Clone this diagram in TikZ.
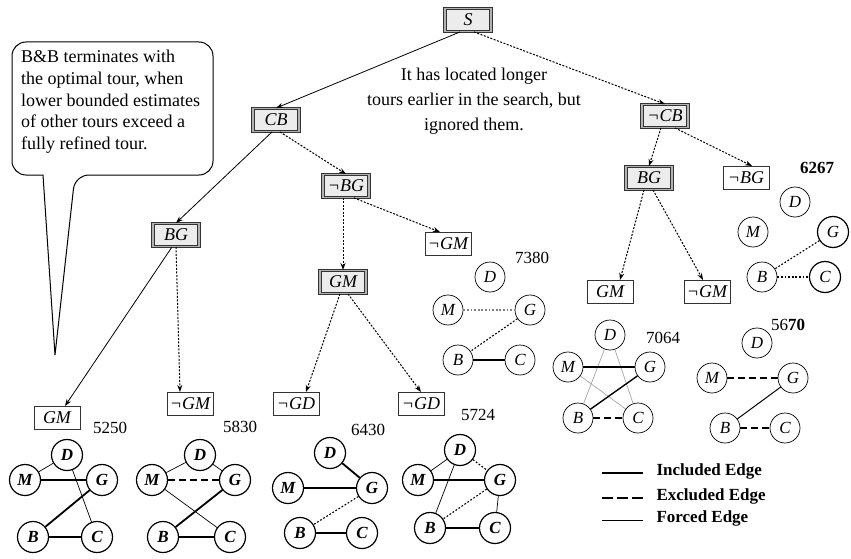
\documentclass[tikz,border=0pt]{standalone}
\usepackage{fontspec}
\setmainfont{Liberation Serif}
\usetikzlibrary{arrows.meta}
\begin{document}
\begin{tikzpicture}[x=1pt,y=-1pt,
  sel/.style={draw=black!80, double=gray!60, double distance=1.4pt, fill=gray!15, line width=0.9pt, minimum width=46pt, minimum height=23pt, inner sep=1pt, font=\fontsize{18}{18}\selectfont\itshape},
  plainbox/.style={draw=black!80, fill=white, line width=1pt, minimum width=46pt, minimum height=23pt, inner sep=1pt, font=\fontsize{18}{18}\selectfont\itshape},
  tarr/.style={-{Stealth[length=7pt,width=5pt]}, line width=0.8pt},
  tdot/.style={tarr, dash pattern=on 2pt off 1.5pt, line width=1pt},
  vtx/.style={circle, draw, line width=1.2pt, minimum size=31pt, inner sep=0pt, font=\fontsize{17}{17}\selectfont\itshape\bfseries},
  vtxl/.style={circle, draw, line width=0.7pt, minimum size=30pt, inner sep=0pt, font=\fontsize{17}{17}\selectfont\itshape},
  incl/.style={line width=1.8pt},
  forc/.style={line width=0.7pt},
  excl/.style={line width=1.2pt, dash pattern=on 7pt off 4pt},
  dotd/.style={line width=1.1pt, dash pattern=on 1.8pt off 1.8pt},
  num/.style={font=\fontsize{17}{17}\selectfont},
  legtxt/.style={font=\fontsize{17}{17}\selectfont\bfseries, anchor=west},
  txt/.style={font=\fontsize{18}{21.7}\selectfont}
]
\useasboundingbox (0,0) rectangle (851,559);

% callout
\draw[line width=1pt, fill=white] (43,175) [rounded corners=14pt] -- (12,175) -- (12,42) -- (213,42) -- (213,175) -- (75,175) [sharp corners] -- (55,355) -- cycle;
\node[txt, anchor=north west, align=left, inner sep=0pt] (callout) at (21,50) {B\&B terminates with\\the optimal tour, when\\lower bounded estimates\\of other tours exceed a\\fully refined tour.};

\node[txt, align=center, font=\fontsize{18}{25}\selectfont] (note) at (474,101) {It has located longer\\tours earlier in the search, but\\ignored them.};

% tree nodes
\node[sel] (S) at (468,20) {S};
\node[sel] (CB) at (276,120) {CB};
\node[sel] (nCB) at (665,116) {¬CB};
\node[sel] (nBG) at (346,186) {¬BG};
\node[sel] (BGl) at (176,235) {BG};
\node[plainbox] (nGMm) at (448,244) {¬GM};
\node[sel] (GMm) at (343,282) {GM};
\node[sel] (BGr) at (649,178) {BG};
\node[plainbox] (nBGr) at (746,178) {¬BG};
\node[plainbox] (GMb) at (57,418) {GM};
\node[plainbox] (nGMb) at (190,404) {¬GM};
\node[plainbox] (nGD1) at (296,404) {¬GD};
\node[plainbox] (nGD2) at (421,404) {¬GD};
\node[plainbox] (GMr) at (610,292) {GM};
\node[plainbox] (nGMr) at (707,292) {¬GM};

% tree edges
\draw[tarr] ([xshift=-8pt]S.south) -- (CB.north);
\draw[tdot] ([xshift=6pt]S.south) -- (nCB.north);
\draw[tarr] ([xshift=-4pt]CB.south) -- (BGl.north);
\draw[tdot] ([xshift=4pt]CB.south) -- (nBG.north);
\draw[tdot] ([xshift=-3pt]nBG.south) -- (GMm.north);
\draw[tdot] ([xshift=8pt]nBG.south) -- ([xshift=-8pt]nGMm.north);
\draw[tarr] ([xshift=-4pt]BGl.south) -- ([xshift=8pt]GMb.north);
\draw[tdot] (BGl.south) -- ([xshift=-10pt]nGMb.north);
\draw[tdot] ([xshift=-3pt]GMm.south) -- ([xshift=10pt]nGD1.north);
\draw[tdot] ([xshift=5pt]GMm.south) -- (nGD2.north);
\draw[tdot] ([xshift=-4pt]nCB.south) -- (BGr.north);
\draw[tdot] ([xshift=10pt]nCB.south) -- ([xshift=6pt]nBGr.north);
\draw[tdot] ([xshift=-5pt]BGr.south) -- ([xshift=10pt]GMr.north);
\draw[tdot] ([xshift=4pt]BGr.south) -- ([xshift=-4pt]nGMr.north);

% graph 5250
\node[vtx] (aD) at (67,455) {D};
\node[vtx] (aM) at (25,480) {M};
\node[vtx] (aG) at (102,480) {G};
\node[vtx] (aB) at (33,537) {B};
\node[vtx] (aC) at (97,537) {C};
\node[num] (la) at (110,428) {5250};
\draw[forc] (aD) -- (aM);
\draw[forc] (aD) -- (aC);
\draw[incl] (aM) -- (aG);
\draw[incl] (aG) -- (aB);
\draw[incl] (aB) -- (aC);

% graph 5830
\node[vtx] (bD) at (200,455) {D};
\node[vtx] (bM) at (152,480) {M};
\node[vtx] (bG) at (235,480) {G};
\node[vtx] (bB) at (163,537) {B};
\node[vtx] (bC) at (230,537) {C};
\node[num] (lb) at (240,427) {5830};
\draw[forc] (bD) -- (bM);
\draw[forc] (bD) -- (bG);
\draw[excl] (bM) -- (bG);
\draw[forc] (bM) -- (bC);
\draw[incl] (bG) -- (bB);
\draw[incl] (bB) -- (bC);

% graph 6430
\node[vtx] (cD) at (330,453) {D};
\node[vtx] (cM) at (288,488) {M};
\node[vtx] (cG) at (372,488) {G};
\node[vtx] (cB) at (300,533) {B};
\node[vtx] (cC) at (362,533) {C};
\node[num] (lc) at (368,430) {6430};
\draw[incl] (cD) -- (cG);
\draw[incl] (cM) -- (cG);
\draw[dotd] (cG) -- (cB);
\draw[incl] (cB) -- (cC);

% graph 5724
\node[vtx] (dD) at (460,450) {D};
\node[vtx] (dM) at (418,480) {M};
\node[vtx] (dG) at (500,480) {G};
\node[vtx] (dB) at (430,528) {B};
\node[vtx] (dC) at (495,528) {C};
\node[num] (ld) at (478,415) {5724};
\draw[forc] (dD) -- (dM);
\draw[forc] (dD) -- (dB);
\draw[dotd] (dD) -- (dG);
\draw[incl] (dM) -- (dG);
\draw[dotd] (dG) -- (dB);
\draw[forc] (dG) -- (dC);
\draw[incl] (dB) -- (dC);

% graph 7380
\node[vtxl] (eD) at (490,277) {D};
\node[vtxl] (eM) at (448,310) {M};
\node[vtxl] (eG) at (530,310) {G};
\node[vtxl] (eB) at (458,360) {B};
\node[vtxl] (eC) at (520,360) {C};
\node[num] (le) at (532,258) {7380};
\draw[dotd, gray] (eM) -- (eG);
\draw[dotd] (eG) -- (eB);
\draw[line width=1.1pt] (eB) -- (eC);

% graph 7064
\node[vtxl] (fD) at (610,335) {D};
\node[vtxl] (fM) at (568,367) {M};
\node[vtxl] (fG) at (650,367) {G};
\node[vtxl] (fB) at (578,418) {B};
\node[vtxl] (fC) at (638,418) {C};
\node[num] (lf) at (663,338) {7064};
\draw[forc, gray!70] (fD) -- (fB);
\draw[forc, gray!70] (fD) -- (fC);
\draw[forc, gray!70] (fM) -- (fC);
\draw[line width=1.4pt] (fM) -- (fG);
\draw[line width=1.4pt] (fG) -- (fB);
\draw[excl] (fB) -- (fC);

% graph 5670
\node[vtxl] (gD) at (757,343) {D};
\node[vtxl] (gM) at (712,378) {M};
\node[vtxl] (gG) at (793,378) {G};
\node[vtxl] (gB) at (725,428) {B};
\node[vtxl] (gC) at (785,428) {C};
\node[num] (lg) at (788,325) {56\textbf{70}};
\draw[excl] (gM) -- (gG);
\draw[line width=1pt] (gG) -- (gB);
\draw[excl] (gB) -- (gC);

% graph 6267
\node[vtxl] (hD) at (795,202) {D};
\node[vtxl] (hM) at (753,232) {M};
\node[vtx, font=\fontsize{17}{17}\selectfont\itshape] (hG) at (833,232) {G};
\node[vtxl] (hB) at (762,277) {B};
\node[vtx, font=\fontsize{17}{17}\selectfont\itshape] (hC) at (825,277) {C};
\node[num, font=\fontsize{17}{17}\selectfont\bfseries] (lh) at (817,168) {6267};
\draw[dotd] (hG) -- (hB);
\draw[dotd] (hB) -- (hC);

% legend
\coordinate (l1a) at (602,473); \coordinate (l1b) at (643,473);
\coordinate (l2a) at (602,498); \coordinate (l2b) at (643,498);
\coordinate (l3a) at (602,520); \coordinate (l3b) at (643,520);
\draw[incl] (l1a) -- (l1b);
\draw[line width=1.4pt, dash pattern=on 11pt off 4pt] (l2a) -- (l2b);
\draw[line width=1pt] (l3a) -- (l3b);
\node[legtxt] (t1) at (653,471) {Included Edge};
\node[legtxt] (t2) at (653,496) {Excluded Edge};
\node[legtxt] (t3) at (653,518) {Forced Edge};
\end{tikzpicture}
\end{document}
